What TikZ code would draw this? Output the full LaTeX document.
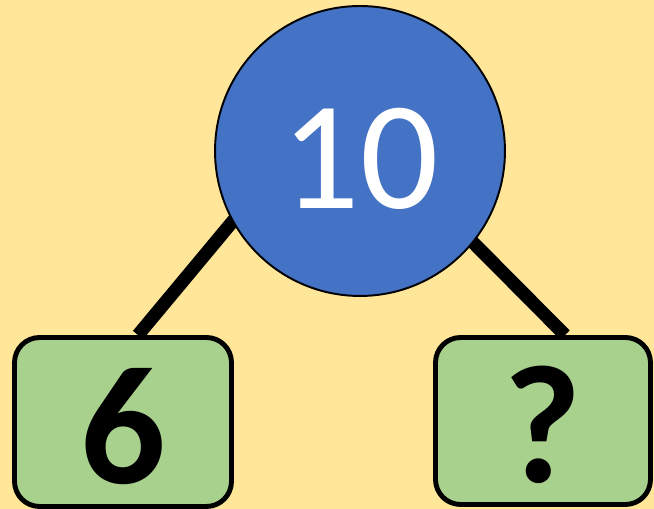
\documentclass[tikz,border=0pt]{standalone}
\usepackage{fontspec}
\setmainfont{Carlito}
\usetikzlibrary{calc,backgrounds}
\definecolor{bgyellow}{HTML}{FFE699}
\definecolor{wholeblue}{HTML}{4472C4}
\definecolor{partgreen}{HTML}{A9D18E}
\tikzset{
  wholenode/.style={circle,draw=black,line width=1.1pt,fill=wholeblue,
    minimum size=5.8cm,inner sep=0pt,text=white,text height=66pt,text depth=0pt,
    font=\fontsize{88}{88}\selectfont},
  partnode/.style={rectangle,rounded corners=0.5cm,draw=black,line width=2.8pt,
    fill=partgreen,inner sep=0pt,text height=70pt,text depth=0pt,
    font=\fontsize{96}{96}\selectfont\bfseries},
  branch/.style={line width=7.5pt,black}
}
\begin{document}
\begin{tikzpicture}[x=0.02cm,y=-0.02cm]
  \useasboundingbox (0,0) rectangle (654,509);
  \node[wholenode] (whole) at (360,151) {10};
  \node[partnode,minimum width=4.34cm,minimum height=3.38cm] (partA) at (123,422) {6};
  \node[partnode,minimum width=4.30cm,minimum height=3.34cm] (partB) at (543,421) {?};
  \coordinate (aEnd) at ($(partA.north)+(15,0)$);
  \coordinate (bEnd) at ($(partB.north)+(22,0)$);
  \begin{pgfonlayer}{background}
    \fill[bgyellow] (0,0) rectangle (654,509);
    \draw[branch] ($(whole.209)!-0.3cm!(aEnd)$) -- (aEnd);
    \draw[branch] ($(whole.321)!-0.3cm!(bEnd)$) -- (bEnd);
  \end{pgfonlayer}
\end{tikzpicture}
\end{document}
